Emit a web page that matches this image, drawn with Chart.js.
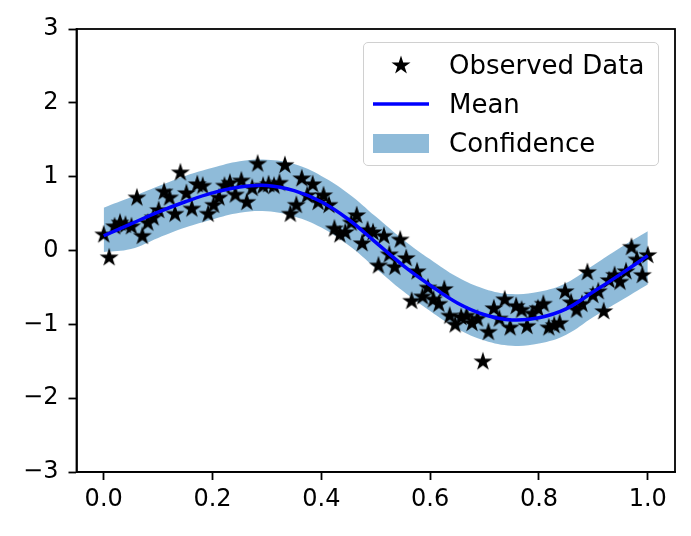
<!DOCTYPE html>
<html lang="en">
<head>
<meta charset="UTF-8">
<title>GP regression</title>
<script src="https://cdn.jsdelivr.net/npm/chart.js@4.4.0/dist/chart.umd.min.js"></script>
<style>
  body { margin: 0; background: #fff; }
  #wrap { position: relative; width: 691px; height: 536px; }
  #legend {
    position: absolute; left: 363px; top: 42px; width: 294px; height: 122px;
    border: 1.5px solid #d0d0d0; border-radius: 5px; background: rgba(255,255,255,0.8);
    font-family: "DejaVu Sans", sans-serif; font-size: 26px; color: #000;
  }
  .row { position: absolute; left: 0; height: 30px; display: flex; align-items: center; }
  .row svg { position: absolute; left: 9px; }
  .row span { position: absolute; left: 85px; white-space: nowrap; }
</style>
</head>
<body>
<div id="wrap">
  <canvas id="myChart"></canvas>
  <div id="legend">
    <div class="row" style="top:7px">
      <svg width="56" height="30"><polygon id="legStar" fill="#000"/></svg>
      <span>Observed Data</span>
    </div>
    <div class="row" style="top:46px">
      <svg width="56" height="30"><line x1="0" y1="15" x2="56" y2="15" stroke="#0000ff" stroke-width="3.5"/></svg>
      <span>Mean</span>
    </div>
    <div class="row" style="top:85px">
      <svg width="56" height="30"><rect x="0" y="6" width="56" height="19" fill="rgba(31,119,180,0.5)"/></svg>
      <span>Confidence</span>
    </div>
  </div>
</div>
<script>
// training points (x on a 0..1 grid of 100 points)
const trainX = [0.000,0.010,0.020,0.030,0.040,0.051,0.061,0.071,0.081,0.091,
  0.101,0.111,0.121,0.131,0.141,0.152,0.162,0.172,0.182,0.192,
  0.202,0.212,0.222,0.232,0.242,0.253,0.263,0.273,0.283,0.293,
  0.303,0.313,0.323,0.333,0.343,0.354,0.364,0.374,0.384,0.394,
  0.404,0.414,0.424,0.434,0.444,0.455,0.465,0.475,0.485,0.495,
  0.505,0.515,0.525,0.535,0.545,0.556,0.566,0.576,0.586,0.596,
  0.606,0.616,0.626,0.636,0.646,0.657,0.667,0.677,0.687,0.697,
  0.707,0.717,0.727,0.737,0.747,0.758,0.768,0.778,0.788,0.798,
  0.808,0.818,0.828,0.838,0.848,0.859,0.869,0.879,0.889,0.899,
  0.909,0.919,0.929,0.939,0.949,0.960,0.970,0.980,0.990,1.000];
const trainY = [0.22,-0.09,0.33,0.38,0.35,0.33,0.72,0.20,0.38,0.45,
  0.55,0.80,0.72,0.50,1.06,0.78,0.57,0.90,0.88,0.50,
  0.62,0.72,0.88,0.92,0.76,0.95,0.66,0.85,1.18,0.88,
  0.90,0.88,0.92,1.16,0.50,0.62,0.98,0.75,0.90,0.66,
  0.75,0.62,0.30,0.22,0.25,0.38,0.48,0.10,0.28,0.25,
  -0.20,0.20,-0.05,-0.22,0.15,-0.10,-0.68,-0.28,-0.62,-0.50,
  -0.66,-0.72,-0.52,-0.88,-1.00,-0.90,-0.88,-0.98,-0.92,-1.50,
  -1.10,-0.78,-0.92,-0.66,-1.04,-0.75,-0.80,-1.02,-0.85,-0.78,
  -0.72,-1.04,-1.01,-0.98,-0.55,-0.70,-0.80,-0.72,-0.29,-0.60,
  -0.55,-0.82,-0.40,-0.33,-0.42,-0.28,0.05,-0.12,-0.33,-0.06];

// posterior mean and confidence region
const testX = [0,0.05,0.1,0.15,0.2,0.25,0.3,0.35,0.4,0.45,0.5,0.55,0.6,0.65,0.7,0.75,0.8,0.85,0.9,0.95,1.0];
const meanY = [0.20,0.36,0.52,0.66,0.78,0.86,0.88,0.81,0.66,0.42,0.11,-0.20,-0.47,-0.71,-0.87,-0.94,-0.91,-0.79,-0.56,-0.32,-0.07];
const upperY = [0.58,0.72,0.87,1.01,1.12,1.21,1.23,1.17,1.01,0.77,0.46,0.15,-0.12,-0.36,-0.52,-0.59,-0.56,-0.44,-0.20,0.04,0.26];
const lowerY = [-0.02,0.02,0.17,0.31,0.42,0.51,0.53,0.46,0.31,0.07,-0.24,-0.55,-0.82,-1.06,-1.22,-1.29,-1.26,-1.14,-0.90,-0.68,-0.46];

const xTicks = [0, 0.2, 0.4, 0.6, 0.8, 1.0];
const yTicks = [-3, -2, -1, 0, 1, 2, 3];

function starPoints(cx, cy, R) {
  const pts = [];
  for (let k = 0; k < 10; k++) {
    const r = k % 2 ? R * 0.382 : R;
    const a = -Math.PI / 2 + k * Math.PI / 5;
    pts.push([cx + r * Math.cos(a), cy + r * Math.sin(a)]);
  }
  return pts;
}

// filled star marker like matplotlib '*'
const starImg = document.createElement('canvas');
starImg.width = 22; starImg.height = 22;
(function () {
  const c = starImg.getContext('2d');
  c.beginPath();
  starPoints(11, 11.5, 10).forEach((p, i) => i ? c.lineTo(p[0], p[1]) : c.moveTo(p[0], p[1]));
  c.closePath();
  c.fillStyle = '#000';
  c.fill();
})();
document.getElementById('legStar').setAttribute('points',
  starPoints(28, 15.5, 10).map(p => p.join(',')).join(' '));

const pairs = (xs, ys) => xs.map((x, i) => ({x: x, y: ys[i]}));

const frame = {
  id: 'frame',
  afterDraw(chart) {
    const a = chart.chartArea, c = chart.ctx;
    c.save();
    c.strokeStyle = '#000';
    c.lineWidth = 1.8;
    c.strokeRect(a.left, a.top, a.right - a.left, a.bottom - a.top);
    c.restore();
  }
};

const tickFont = {family: 'DejaVu Sans', size: 24};

new Chart(document.getElementById('myChart'), {
  type: 'scatter',
  data: {
    datasets: [
      {
        label: 'Mean', type: 'line', data: pairs(testX, meanY), order: 0,
        borderColor: '#0000ff', borderWidth: 3.5, pointRadius: 0,
        tension: 0.4, fill: false
      },
      {
        label: 'Observed Data', data: pairs(trainX, trainY), order: 1,
        pointStyle: starImg, pointRadius: 11, showLine: false
      },
      {
        label: 'lower', type: 'line', data: pairs(testX, lowerY), order: 2,
        borderWidth: 0, pointRadius: 0, tension: 0.4, fill: false
      },
      {
        label: 'Confidence', type: 'line', data: pairs(testX, upperY), order: 3,
        borderWidth: 0, pointRadius: 0, tension: 0.4,
        fill: 2, backgroundColor: 'rgba(31,119,180,0.5)'
      }
    ]
  },
  options: {
    responsive: true,
    maintainAspectRatio: false,
    animation: false,
    layout: {padding: {left: 0, right: 16, top: 29, bottom: 0}},
    plugins: {legend: {display: false}, tooltip: {enabled: false}},
    scales: {
      x: {
        type: 'linear', min: -0.05, max: 1.05,
        afterBuildTicks: s => { s.ticks = xTicks.map(v => ({value: v})); },
        afterFit: s => { s.height = 64; },
        grid: {display: true, drawOnChartArea: false, tickLength: 8, tickColor: '#000', tickWidth: 1.8},
        border: {display: true, color: '#000', width: 1.8},
        ticks: {color: '#000', font: tickFont, padding: 5, maxRotation: 0,
                callback: v => v.toFixed(1)}
      },
      y: {
        type: 'linear', min: -3, max: 3,
        afterBuildTicks: s => { s.ticks = yTicks.map(v => ({value: v})); },
        afterFit: s => { s.width = 76.5; },
        grid: {display: true, drawOnChartArea: false, tickLength: 8, tickColor: '#000', tickWidth: 1.8},
        border: {display: true, color: '#000', width: 1.8},
        ticks: {color: '#000', font: tickFont, padding: 10,
                callback: v => (v < 0 ? '\u2212' + Math.abs(v) : String(v))}
      }
    }
  },
  plugins: [frame]
});
</script>
</body>
</html>
